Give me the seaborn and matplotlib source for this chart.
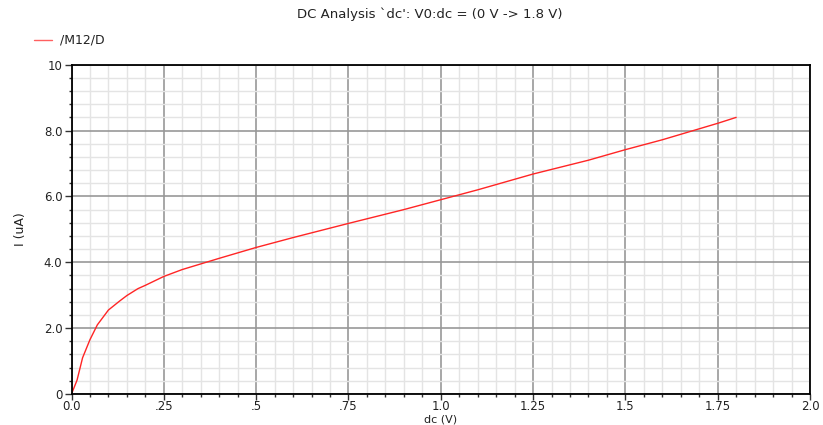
import matplotlib
matplotlib.use("Agg")
import matplotlib.pyplot as plt
import seaborn as sns
import pandas as pd
from matplotlib.ticker import MultipleLocator, FixedLocator, FixedFormatter
from matplotlib.lines import Line2D

# Data
dc_volts = [0, 0.015, 0.03, 0.05, 0.07, 0.1, 0.13, 0.15, 0.18, 0.2, 0.25, 0.3,
            0.4, 0.5, 0.6, 0.75, 0.9, 1.0, 1.1, 1.25, 1.4, 1.5, 1.6, 1.75, 1.8]
current_uA = [0, 0.42, 1.1, 1.65, 2.1, 2.55, 2.82, 2.99, 3.2, 3.3, 3.57, 3.78,
              4.12, 4.45, 4.75, 5.18, 5.6, 5.9, 6.2, 6.68, 7.1, 7.42, 7.72, 8.22, 8.4]
series_name = "/M12/D"
x_ticks = [0, 0.25, 0.5, 0.75, 1.0, 1.25, 1.5, 1.75, 2.0]
x_tick_labels = ["0.0", ".25", ".5", ".75", "1.0", "1.25", "1.5", "1.75", "2.0"]
y_ticks = [0, 2, 4, 6, 8, 10]
y_tick_labels = ["0", "2.0", "4.0", "6.0", "8.0", "10"]

df = pd.DataFrame({"dc": dc_volts, "I": current_uA})

sns.set_style("white")
plt.rcParams['font.family'] = ['DejaVu Sans']

fig = plt.figure(figsize=(8.23, 4.25), dpi=100)
ax_h = (394 - 64.7)
ax = fig.add_axes([71.5 / 823, 1 - 394 / 425, (810 - 71.5) / 823, ax_h / 425])

sns.lineplot(data=df, x="dc", y="I", ax=ax, color="#ff2525", linewidth=1.0, legend=False)

ax.set_xlim(0, 2.0)
ax.set_ylim(0, 10)
ax.xaxis.set_major_locator(FixedLocator(x_ticks))
ax.xaxis.set_major_formatter(FixedFormatter(x_tick_labels))
ax.yaxis.set_major_locator(FixedLocator(y_ticks))
ax.yaxis.set_major_formatter(FixedFormatter(y_tick_labels))
ax.xaxis.set_minor_locator(MultipleLocator(0.05))
ax.yaxis.set_minor_locator(MultipleLocator(0.4))

ax.grid(True, which="major", color="#989898", linewidth=1.2)
ax.grid(True, which="minor", color="#e4e4e4", linewidth=1.0)
ax.set_axisbelow(True)

for s in ax.spines.values():
    s.set_color("black")
    s.set_linewidth(1.3)
    s.set_visible(True)

ax.tick_params(axis="y", which="major", direction="out", length=5, width=1,
               color="#333333", labelsize=8.5, labelcolor="#222222", pad=1.5, left=True)
ax.tick_params(axis="x", which="major", direction="out", length=4, width=1,
               color="#333333", labelsize=8.5, labelcolor="#222222", pad=0.5, bottom=True)
ax.tick_params(axis="both", which="minor", direction="out", length=2.5, width=1,
               color="#333333", bottom=True, left=True)

ax.set_xlabel("dc (V)", fontsize=8, color="#222222", va="bottom")
ax.xaxis.set_label_coords(0.5, (394 - 424) / ax_h)
ax.set_ylabel("I (uA)", fontsize=9, color="#222222", labelpad=12)

fig.text(430 / 823, 1 - 14 / 425, "DC Analysis `dc': V0:dc = (0 V -> 1.8 V)",
         ha="center", va="center", fontsize=9.5, color="#222222")

# legend entry
fig.add_artist(Line2D([34 / 823, 52 / 823], [1 - 40 / 425, 1 - 40 / 425],
                      color="#ff6060", linewidth=1.0, transform=fig.transFigure))
fig.text(60 / 823, 1 - 40 / 425, series_name, ha="left", va="center",
         fontsize=9, color="#222222")

fig.savefig("out.png", dpi=100)
